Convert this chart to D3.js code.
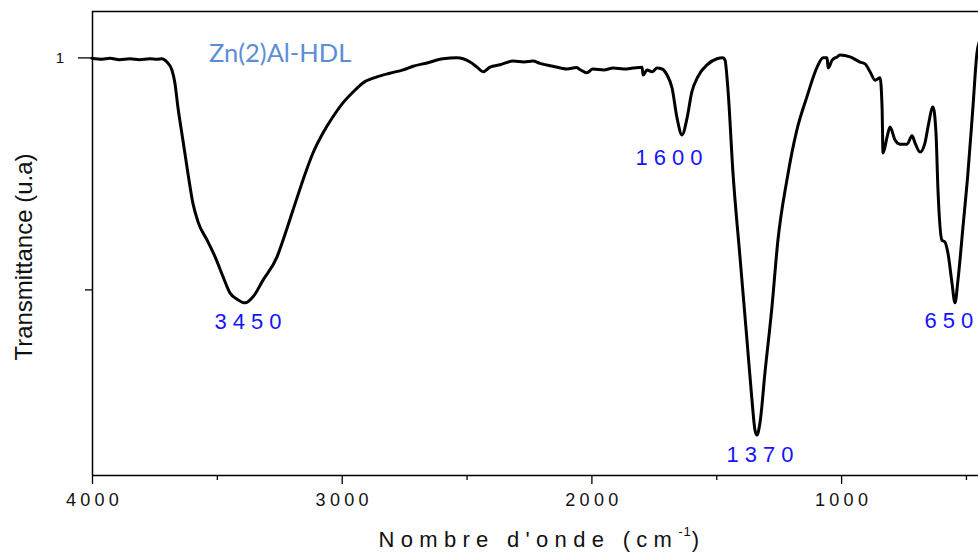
<!DOCTYPE html>
<html>
<head>
<meta charset="utf-8">
<script src="https://cdn.jsdelivr.net/npm/d3@7"></script>
<style>
  html, body { margin: 0; padding: 0; background: #fff; }
  svg { display: block; }
</style>
</head>
<body>
<svg id="chart" width="978" height="554"></svg>
<script>
// ---- data ----
const wavenumber = [
  4000, 3960, 3928, 3890, 3848, 3810, 3768, 3740, 3720, 3700, 3680, 3668, 3656, 3636, 3616, 3596,
  3575, 3539, 3507, 3475, 3447, 3419, 3387, 3355, 3315, 3259, 3235, 3195, 3155, 3115, 3075, 3035,
  2995, 2955, 2915, 2859, 2807, 2754, 2714, 2658, 2594, 2538, 2486, 2458, 2434, 2406, 2366, 2314,
  2270, 2234, 2206, 2154, 2098, 2060, 2046, 2018, 1994, 1950, 1913, 1870, 1833, 1797, 1793, 1777,
  1757, 1737, 1717, 1697, 1677, 1657, 1637, 1617, 1598, 1574, 1537, 1497, 1473, 1465, 1453, 1433,
  1405, 1377, 1357, 1345, 1337, 1325, 1305, 1277, 1253, 1217, 1177, 1137, 1096, 1072, 1056, 1052,
  1036, 1016, 1004, 964, 924, 904, 884, 864, 844, 836, 832, 816, 804, 784, 764, 736, 716, 704, 684,
  664, 652, 632, 620, 612, 596, 584, 572, 556, 544, 532, 512, 492, 472, 456, 446
];
const transmittance = [
  0.998, 0.996, 0.998, 0.995, 0.997, 0.995, 0.997, 0.996, 0.997, 0.990, 0.973, 0.945, 0.893, 0.822, 0.751, 0.686,
  0.645, 0.606, 0.570, 0.527, 0.492, 0.479, 0.471, 0.484, 0.520, 0.570, 0.606, 0.671, 0.736, 0.794, 0.837, 0.872,
  0.902, 0.925, 0.945, 0.958, 0.966, 0.973, 0.981, 0.988, 0.997, 0.999, 0.990, 0.979, 0.969, 0.979, 0.984, 0.992,
  0.990, 0.992, 0.987, 0.981, 0.975, 0.978, 0.974, 0.967, 0.975, 0.973, 0.977, 0.975, 0.977, 0.979, 0.962, 0.973,
  0.969, 0.977, 0.975, 0.962, 0.934, 0.869, 0.833, 0.869, 0.925, 0.958, 0.984, 0.997, 0.999, 0.994, 0.930, 0.751,
  0.570, 0.391, 0.262, 0.197, 0.186, 0.212, 0.320, 0.462, 0.606, 0.736, 0.844, 0.915, 0.979, 0.999, 0.999, 0.977,
  0.994, 1.001, 1.005, 1.001, 0.990, 0.986, 0.969, 0.951, 0.956, 0.893, 0.794, 0.828, 0.850, 0.822, 0.813, 0.813, 0.831, 0.816, 0.796,
  0.816, 0.850, 0.893, 0.837, 0.714, 0.606, 0.602, 0.578, 0.514, 0.471, 0.520, 0.634, 0.751, 0.893, 1.009, 1.035
];
const xTickValues = [4000, 3000, 2000, 1000];
const xMinorTicks = [3500, 2500, 1500, 500];
const yTickValues = [1];
const yMinorTicks = [0.5];
const sampleName = "Zn(2)Al-HDL";
const peakLabels = ["3450", "1600", "1370", "650"];
const peakLabelWave = [3375, 1689, 1325, 568];
const peakLabelValue = [0.415, 0.768, 0.128, 0.417];

(function () {
// ---- layout ----
const svg = d3.select("#chart");
const mLeft = 92, mTop = 11, mBottom = 475;
const x = d3.scaleLinear().domain([4000, 400]).range([mLeft, mLeft + 3600 * 0.2497]);
const y = d3.scaleLinear().domain([0.1, 1.1]).range([mBottom, mTop]);

const g = svg.append("g");

// frame: top border
g.append("line")
  .attr("x1", mLeft).attr("x2", 978).attr("y1", mTop + 0.5).attr("y2", mTop + 0.5)
  .attr("stroke", "#000").attr("stroke-width", 1.5);

// x axis
const xAxis = d3.axisBottom(x).tickValues(xTickValues).tickSize(9).tickSizeOuter(0).tickFormat(d3.format("d"));
const gx = g.append("g").attr("transform", `translate(0,${mBottom})`).call(xAxis);
gx.select(".domain").attr("stroke", "#000").attr("stroke-width", 1.5)
  .attr("d", `M${mLeft},0.5H978`);
gx.selectAll(".tick line").attr("stroke", "#000").attr("stroke-width", 1.3);
gx.selectAll(".tick text")
  .attr("font-family", "Liberation Sans, Arial, sans-serif")
  .attr("font-size", 18).attr("letter-spacing", "4.3px")
  .attr("fill", "#111").attr("dy", null).attr("y", 31).attr("dx", "2px");
const gxm = g.append("g").attr("transform", `translate(0,${mBottom})`)
  .call(d3.axisBottom(x).tickValues(xMinorTicks).tickSize(5).tickFormat(""));
gxm.select(".domain").remove();
gxm.selectAll(".tick line").attr("stroke", "#000").attr("stroke-width", 1.3);

// y axis
const yAxis = d3.axisLeft(y).tickValues(yTickValues).tickSize(14).tickSizeOuter(0).tickFormat(d3.format("d"));
const gy = g.append("g").attr("transform", `translate(${mLeft},0)`).call(yAxis);
gy.select(".domain").attr("stroke", "#000").attr("stroke-width", 1.5)
  .attr("d", `M0.5,${mTop}V${mBottom}`);
gy.selectAll(".tick line").attr("stroke", "#000").attr("stroke-width", 1.3);
gy.selectAll(".tick text")
  .attr("font-family", "Liberation Sans, Arial, sans-serif")
  .attr("font-size", 15).attr("fill", "#111").attr("x", -28);
const gym = g.append("g").attr("transform", `translate(${mLeft},0)`)
  .call(d3.axisLeft(y).tickValues(yMinorTicks).tickSize(7).tickFormat(""));
gym.select(".domain").remove();
gym.selectAll(".tick line").attr("stroke", "#000").attr("stroke-width", 1.3);

// spectrum
const pts = wavenumber.map((w, i) => [w, transmittance[i]]);
const line = d3.line()
  .x(d => x(d[0])).y(d => y(d[1]))
  .curve(d3.curveMonotoneX);
g.append("path").datum(pts)
  .attr("d", line)
  .attr("fill", "none").attr("stroke", "#000")
  .attr("stroke-width", 3).attr("stroke-linejoin", "round").attr("stroke-linecap", "round");

// peak labels
g.selectAll(".peak").data(peakLabels).enter().append("text")
  .attr("class", "peak")
  .attr("x", (d, i) => x(peakLabelWave[i]) + 3)
  .attr("y", (d, i) => y(peakLabelValue[i]))
  .attr("text-anchor", "middle")
  .attr("font-family", "Liberation Sans, Arial, sans-serif")
  .attr("font-size", 22).attr("letter-spacing", "6px")
  .attr("fill", "#1414ff")
  .text(d => d);

// sample name
g.append("text")
  .attr("x", 209).attr("y", 62)
  .attr("font-family", "Lato, 'Open Sans', sans-serif")
  .attr("font-size", 25.5).attr("fill", "#5a8fd8")
  .text(sampleName);

// axis titles
const xt = g.append("text")
  .attr("x", 542).attr("y", 547)
  .attr("text-anchor", "middle")
  .attr("font-family", "Liberation Sans, Arial, sans-serif")
  .attr("font-size", 22).attr("letter-spacing", "6.3px").attr("fill", "#111");
xt.append("tspan").text("Nombre d'onde (cm");
xt.append("tspan").attr("font-size", 13).attr("dy", -11).attr("letter-spacing", "1px").text("-1");
xt.append("tspan").attr("dy", 11).text(")");

g.append("text")
  .attr("transform", "translate(31.5,257) rotate(-90)")
  .attr("text-anchor", "middle")
  .attr("font-family", "Liberation Sans, Arial, sans-serif")
  .attr("font-size", 24).attr("fill", "#111")
  .text("Transmittance (u.a)");
})();
</script>
</body>
</html>
